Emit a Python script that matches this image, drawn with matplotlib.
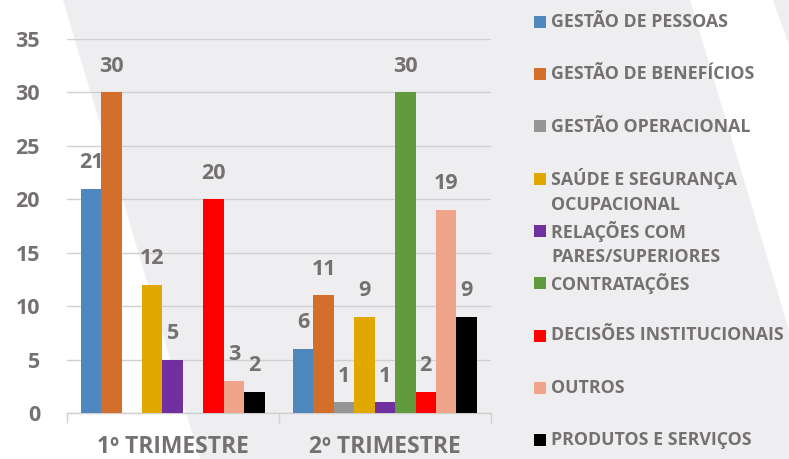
import matplotlib
matplotlib.use("Agg")
import matplotlib.pyplot as plt
import matplotlib.patches as patches
import numpy as np

# data
categories = ['1º TRIMESTRE', '2º TRIMESTRE']
series = ['GESTÃO DE PESSOAS', 'GESTÃO DE BENEFÍCIOS', 'GESTÃO OPERACIONAL',
          'SAÚDE E SEGURANÇA\nOCUPACIONAL', 'RELAÇÕES COM\nPARES/SUPERIORES',
          'CONTRATAÇÕES', 'DECISÕES INSTITUCIONAIS', 'OUTROS',
          'PRODUTOS E SERVIÇOS']
tri1 = [21, 30, 0, 12, 5, 0, 20, 3, 2]
tri2 = [6, 11, 1, 9, 1, 30, 2, 19, 9]
colors = ['#4E87BE', '#D36F2B', '#959595', '#E0A800', '#7030A0',
          '#629B3D', '#FF0000', '#F0A58A', '#000000']

txt = '#767171'
bg = '#EEEEF1'
plt.rcParams['font.family'] = ['Open Sans', 'DejaVu Sans']
plt.rcParams['font.weight'] = 'bold'

W, H = 789, 459
fig = plt.figure(figsize=(W / 100, H / 100), dpi=100)
fig.patch.set_facecolor(bg)

# white diagonal stripes in the background (pixel coords -> figure fraction)
def px(pts):
    return [(x / W, 1 - y / H) for x, y in pts]

fig.patches.append(patches.Polygon(px([(0, 0), (63, 0), (200, 459), (0, 459)]),
                                   closed=True, transform=fig.transFigure,
                                   facecolor='white', edgecolor='none', zorder=-10))
fig.patches.append(patches.Polygon(px([(690, 0), (773, 0), (789, 45), (789, 330)]),
                                   closed=True, transform=fig.transFigure,
                                   facecolor='white', edgecolor='none', zorder=-10))

ax = fig.add_axes([66.5 / W, 1 - 413 / H, (491 - 66.5) / W, (413 - 39) / H])
ax.set_facecolor('none')

x = np.arange(len(categories))
w = 0.0962
for i, name in enumerate(series):
    vals = [tri1[i], tri2[i]]
    bars = ax.bar(x + (i - 4) * w, vals, w, color=colors[i], zorder=3)
    for b, v in zip(bars, vals):
        if v == 0:
            continue
        ax.annotate(str(v), (b.get_x() + b.get_width() / 2, v),
                    xytext=(0, 26), textcoords='offset pixels',
                    ha='center', va='center', fontsize=15.5,
                    fontweight='bold', color=txt, zorder=4)

ax.set_ylim(0, 35)
ax.set_yticks(range(0, 36, 5))
ax.set_xlim(-0.5, 1.5)
ax.set_xticks(x)
ax.set_xticklabels(categories)
ax.set_xticks([-0.5, 0.5, 1.5], minor=True)
ax.tick_params(axis='x', which='major', length=0, pad=16, labelsize=16.5, labelcolor=txt)
ax.tick_params(axis='x', which='minor', length=7, color='#D0D0D0', width=1)
ax.tick_params(axis='y', length=0, pad=19, labelsize=15.5, labelcolor=txt)
for lab in ax.get_xticklabels() + ax.get_yticklabels():
    lab.set_fontweight('bold')

ax.grid(axis='y', color='#D0D0D0', linewidth=1, zorder=0)
for s in ['top', 'right', 'left']:
    ax.spines[s].set_visible(False)
ax.spines['bottom'].set_color('#D0D0D0')
ax.spines['bottom'].set_linewidth(1)

# legend drawn by hand to mimic the Excel spacing
for i, (name, c) in enumerate(zip(series, colors)):
    y0 = 22 + 52.25 * i
    fig.patches.append(patches.Rectangle((534 / W, 1 - (y0 + 6) / H), 12 / W, 12 / H,
                                         transform=fig.transFigure,
                                         facecolor=c, edgecolor='none'))
    for j, line in enumerate(name.split('\n')):
        fig.text(551 / W, 1 - (y0 + 26 * j) / H, line, ha='left', va='center',
                 fontsize=12.8, fontweight='bold', color=txt)

fig.savefig('out.png', dpi=100, facecolor=bg)
